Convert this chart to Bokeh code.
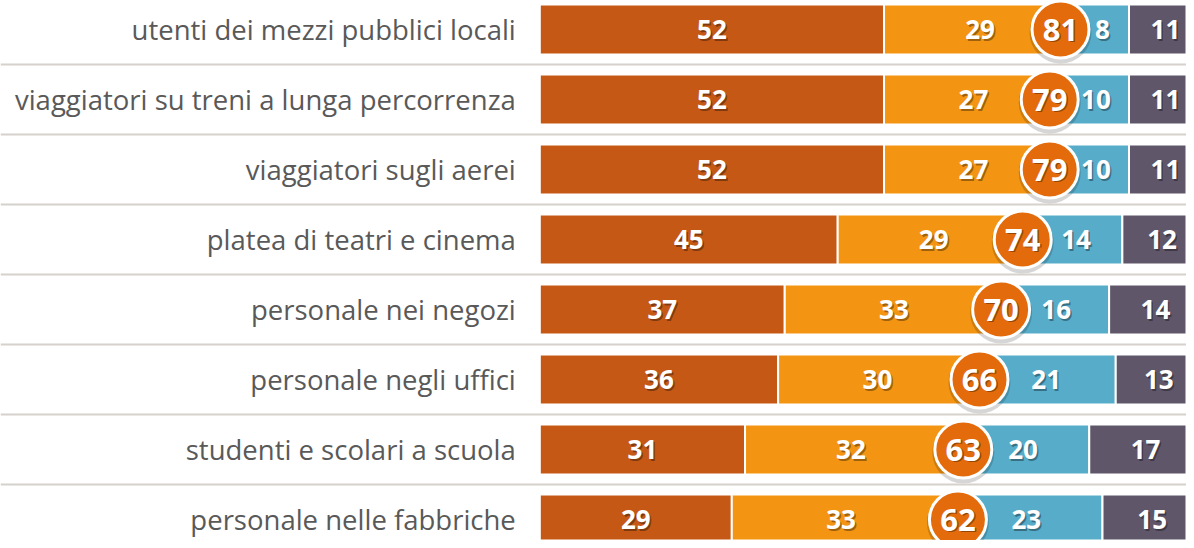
import numpy as np
from bokeh.plotting import figure
from bokeh.models import Range1d, ColumnDataSource, Span
from bokeh.core.properties import value
from bokeh.embed import file_html
from bokeh.resources import INLINE

# ---- data ----
categories = [
    "utenti dei mezzi pubblici locali",
    "viaggiatori su treni a lunga percorrenza",
    "viaggiatori sugli aerei",
    "platea di teatri e cinema",
    "personale nei negozi",
    "personale negli uffici",
    "studenti e scolari a scuola",
    "personale nelle fabbriche",
]
seg1 = [52, 52, 52, 45, 37, 36, 31, 29]
seg2 = [29, 27, 27, 29, 33, 30, 32, 33]
seg3 = [8, 10, 10, 14, 16, 21, 20, 23]
seg4 = [11, 11, 11, 12, 14, 13, 17, 15]
totals = [81, 79, 79, 74, 70, 66, 63, 62]

colors = ["#C65816", "#F49413", "#56ACC9", "#5F5769"]
circle_color = "#E36B0C"

FONT = "Open Sans"

# ---- figure ----
p = figure(width=1186, height=540, output_backend="svg", toolbar_location=None,
           x_range=Range1d(-81.47, 97.69), y_range=Range1d(-7.30, 0.4143),
           min_border=0, outline_line_color=None, background_fill_color="white",
           border_fill_color="white")
p.axis.visible = False
p.xgrid.visible = False
p.ygrid.visible = False
p.extra_x_ranges = {"circ": Range1d(-115.30, 104.33)}

n = len(categories)
ys = -np.arange(n, dtype=float)

# separators
for i in range(n - 1):
    p.add_layout(Span(location=ys[i] - 0.5, dimension="width",
                      line_color="#D6D1CC", line_width=2))

# stacked bars
segs = [np.array(seg1), np.array(seg2), np.array(seg3), np.array(seg4)]
left = np.zeros(n)
for vals, col in zip(segs, colors):
    right = left + vals
    src = ColumnDataSource(dict(y=ys, left=left, right=right,
                                mid=(left + right) / 2,
                                lab=[str(v) for v in vals]))
    p.hbar(y="y", left="left", right="right", height=0.714, source=src,
           fill_color=col, line_color="white", line_width=2)
    p.text(x="mid", y="y", text="lab", source=src, x_offset=1.5, y_offset=1.5,
           text_align="center", text_baseline="middle",
           text_font=value(FONT), text_font_style="bold", text_font_size="26px",
           text_color="black", text_alpha=0.35)
    p.text(x="mid", y="y", text="lab", source=src,
           text_align="center", text_baseline="middle",
           text_font=value(FONT), text_font_style="bold", text_font_size="26px",
           text_color="white")
    left = right

# category labels
p.text(x=np.zeros(n), y=ys, text=categories, x_offset=-24,
       text_align="right", text_baseline="middle",
       text_font=value(FONT), text_font_size="27.5px", text_color="#595959")

# total circles
csrc = ColumnDataSource(dict(x=totals, y=ys, ysh=ys - 0.045,
                             lab=[str(t) for t in totals]))
p.scatter(x="x", y="ysh", source=csrc, x_range_name="circ", size=62,
          fill_color="black", fill_alpha=0.16, line_color=None)
p.scatter(x="x", y="y", source=csrc, x_range_name="circ", size=57,
          fill_color=circle_color, line_color="white", line_width=3)
p.text(x="x", y="y", text="lab", source=csrc, x_range_name="circ",
       x_offset=1.5, y_offset=1.5, text_align="center", text_baseline="middle",
       text_font=value(FONT), text_font_style="bold", text_font_size="31px",
       text_color="black", text_alpha=0.35)
p.text(x="x", y="y", text="lab", source=csrc, x_range_name="circ",
       text_align="center", text_baseline="middle",
       text_font=value(FONT), text_font_style="bold", text_font_size="31px",
       text_color="white")

open("out.html", "w").write(file_html(p, INLINE))
